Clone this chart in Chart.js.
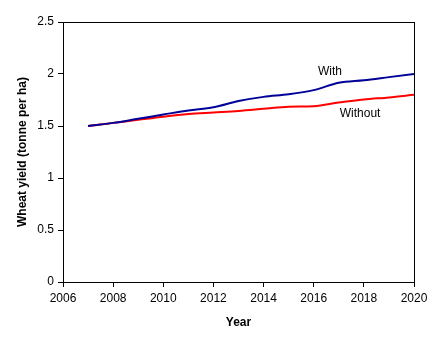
<!DOCTYPE html>
<html>
<head>
<meta charset="utf-8">
<script src="https://cdn.jsdelivr.net/npm/chart.js@4/dist/chart.umd.min.js"></script>
<style>
  html, body { margin: 0; padding: 0; background: #fff; }
  #wrap { width: 442px; height: 348px; }
</style>
</head>
<body>
<div id="wrap"><canvas id="yieldChart" width="442" height="348"></canvas></div>
<script>
// anos e rendimento do trigo (t/ha) com e sem a prática
const years = [2007, 2008, 2009, 2010, 2011, 2012, 2013, 2014, 2015, 2016, 2017, 2018, 2019, 2020];
const withValues = [1.50, 1.53, 1.57, 1.61, 1.65, 1.68, 1.74, 1.78, 1.805, 1.845, 1.915, 1.94, 1.97, 2.00];
const withoutValues = [1.50, 1.53, 1.56, 1.59, 1.615, 1.63, 1.645, 1.665, 1.685, 1.69, 1.725, 1.755, 1.775, 1.80];
const seriesNames = ['With', 'Without'];
// posição dos rótulos das séries (em unidades dos eixos)
const labelPos = [[2016.65, 2.02], [2017.85, 1.615]];

const fonte = "'Liberation Sans', Arial, sans-serif";

function pontos(vals) {
    return years.map((x, i) => ({ x: x, y: vals[i] }));
}

// moldura em volta da área do gráfico + rótulos "With"/"Without"
const molduraPlugin = {
    id: 'moldura',
    afterDatasetsDraw(chart) {
        const ctx = chart.ctx;
        const a = chart.chartArea;
        ctx.save();
        ctx.strokeStyle = '#000';
        ctx.lineWidth = 1;
        ctx.strokeRect(Math.round(a.left) + 0.5, Math.round(a.top) + 0.5,
            Math.round(a.right - a.left), Math.round(a.bottom - a.top));
        ctx.fillStyle = '#000';
        ctx.font = '12px ' + fonte;
        ctx.textAlign = 'center';
        ctx.textBaseline = 'middle';
        seriesNames.forEach((nome, i) => {
            const px = chart.scales.x.getPixelForValue(labelPos[i][0]);
            const py = chart.scales.y.getPixelForValue(labelPos[i][1]);
            ctx.fillText(nome, px, py);
        });
        ctx.restore();
    }
};

const ctx = document.getElementById('yieldChart').getContext('2d');
new Chart(ctx, {
    type: 'line',
    data: {
        datasets: [{
            label: seriesNames[0],
            data: pontos(withValues),
            borderColor: '#000099',
            borderWidth: 2,
            pointRadius: 0,
            cubicInterpolationMode: 'monotone'
        }, {
            label: seriesNames[1],
            data: pontos(withoutValues),
            borderColor: '#ff0000',
            borderWidth: 2,
            pointRadius: 0,
            cubicInterpolationMode: 'monotone'
        }]
    },
    options: {
        responsive: false,
        animation: false,
        layout: { padding: { left: 15, top: 22, right: 28, bottom: 18 } },
        plugins: {
            legend: { display: false },
            tooltip: { enabled: false }
        },
        scales: {
            x: {
                type: 'linear',
                min: 2006,
                max: 2020,
                grid: { drawOnChartArea: false, drawTicks: true, tickLength: 5, color: '#000' },
                border: { display: true, color: '#000' },
                ticks: {
                    stepSize: 2,
                    color: '#000',
                    padding: 4,
                    font: { family: fonte, size: 12 },
                    callback: v => String(v)
                },
                title: {
                    display: true,
                    text: 'Year',
                    color: '#000',
                    font: { family: fonte, size: 12, weight: 'bold' },
                    padding: 0
                },
                afterFit: s => { s.height = 48; }
            },
            y: {
                min: 0,
                max: 2.5,
                grid: { drawOnChartArea: false, drawTicks: true, tickLength: 5, color: '#000' },
                border: { display: true, color: '#000' },
                ticks: {
                    stepSize: 0.5,
                    color: '#000',
                    padding: 4,
                    font: { family: fonte, size: 12 },
                    callback: v => String(v)
                },
                title: {
                    display: true,
                    text: 'Wheat yield (tonne per ha)',
                    color: '#000',
                    font: { family: fonte, size: 12, weight: 'bold' },
                    padding: 0
                },
                afterFit: s => { s.width = 48; }
            }
        }
    },
    plugins: [molduraPlugin]
});
</script>
</body>
</html>
